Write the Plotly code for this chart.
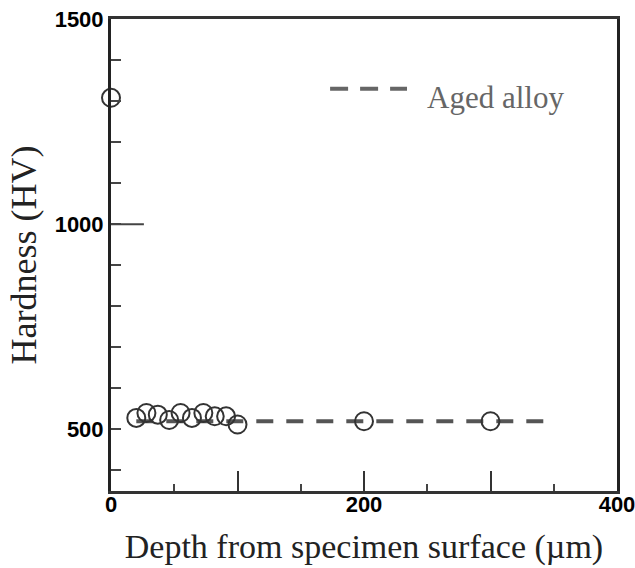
import plotly.graph_objects as go

# Data
depth_um = [0, 20, 28, 37, 46, 55, 64, 73, 82, 91, 100, 200, 300]
hardness_hv = [1308, 528, 540, 536, 523, 540, 528, 540, 532, 532, 512, 520, 520]

fit_depth = [20, 350]
fit_hardness = [520, 520]

x_tickvals = [0, 100, 200, 300, 400]
x_ticktext = ["0", "", "200", "", "400"]
y_tickvals = [500, 1000, 1500]
y_ticktext = ["500", "1000", "1500"]

legend_label = "Aged alloy"

fig = go.Figure()

fig.add_trace(go.Scatter(
    x=fit_depth, y=fit_hardness, mode="lines",
    line=dict(color="#555555", width=4, dash="17px,13px"),
    showlegend=False, hoverinfo="skip",
))

fig.add_trace(go.Scatter(
    x=depth_um, y=hardness_hv, mode="markers",
    marker=dict(symbol="circle-open", size=18, color="#333333",
                line=dict(width=2, color="#333333")),
    cliponaxis=False, showlegend=False,
))

tickfont = dict(family="Liberation Sans", size=22, color="black", weight="bold")
titlefont = dict(family="Liberation Serif", size=34, color="#222222")

fig.update_layout(
    width=635, height=568,
    margin=dict(l=111, r=18, t=19, b=77),
    paper_bgcolor="white", plot_bgcolor="white",
    showlegend=False,
    xaxis=dict(
        range=[0, 400], showline=True, linecolor="#333333", linewidth=3, mirror=True,
        ticks="inside", tickvals=x_tickvals, ticktext=x_ticktext,
        ticklen=20, tickwidth=2, tickcolor="#333333",
        minor=dict(ticks="inside", dtick=50, tick0=0, ticklen=7, tickwidth=2, tickcolor="#444444"),
        showgrid=False, zeroline=False, tickfont=tickfont,
        ticklabeloverflow="allow", automargin=False, ticklabelstandoff=-8,
        title=dict(text="Depth from specimen surface (µm)", font=titlefont, standoff=18),
    ),
    yaxis=dict(
        range=[350, 1500], showline=True, linecolor="#222222", linewidth=3, mirror=True,
        ticks="inside", tickvals=y_tickvals, ticktext=y_ticktext,
        ticklen=4, tickwidth=2, tickcolor="#444444",
        minor=dict(ticks="inside", dtick=100, tick0=0, ticklen=10, tickwidth=2, tickcolor="#444444"),
        showgrid=False, zeroline=False, tickfont=tickfont,
        ticklabeloverflow="allow", automargin=False,
        title=dict(text="Hardness (HV)", font=dict(family="Liberation Serif", size=36, color="#222222"), standoff=8),
    ),
)

# Long tick at 1000
fig.add_shape(type="line", xref="paper", yref="y", x0=0, x1=0.065, y0=1000, y1=1000,
              line=dict(color="#444444", width=2))

# Manual legend
fig.add_shape(type="line", xref="paper", yref="paper", x0=0.433, x1=0.585, y0=0.852, y1=0.852,
              line=dict(color="#666666", width=4, dash="18px,12px"))
fig.add_annotation(xref="paper", yref="paper", x=0.62, y=0.834, xanchor="left", yanchor="middle",
                   text=legend_label, showarrow=False,
                   font=dict(family="Liberation Serif", size=31, color="#666666"))

fig.write_html("out.html")
